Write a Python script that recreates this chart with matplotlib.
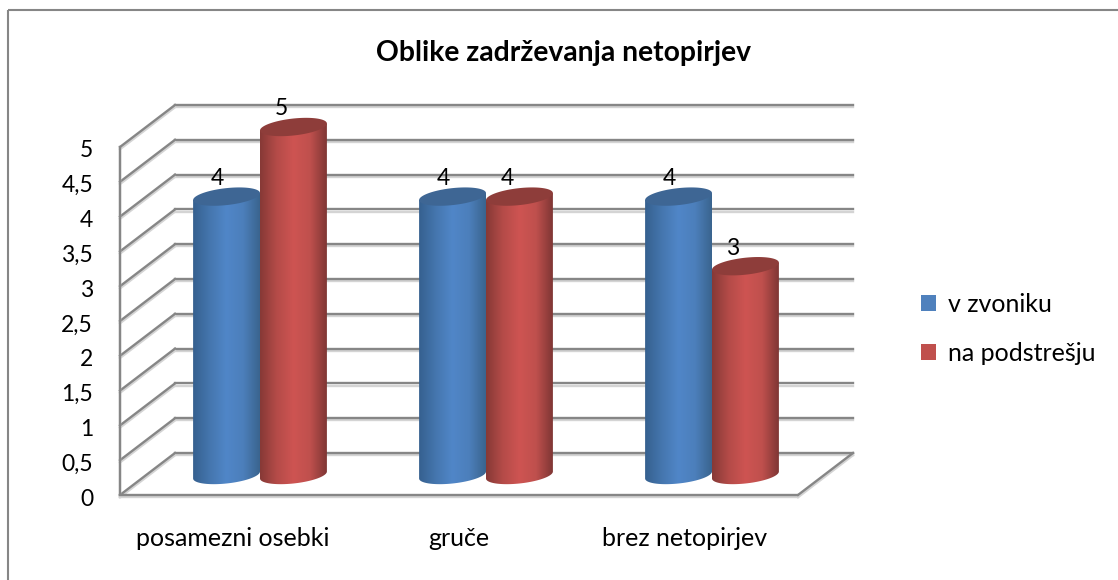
import numpy as np
import matplotlib
matplotlib.use("Agg")
import matplotlib.pyplot as plt
from matplotlib.colors import LinearSegmentedColormap
from matplotlib.lines import Line2D
from matplotlib.patches import Polygon, Patch
from matplotlib.transforms import Affine2D
import matplotlib.patheffects as pe

# ---- data ----
title = "Oblike zadrževanja netopirjev"
categories = ["posamezni osebki", "gruče", "brez netopirjev"]
series_names = ["v zvoniku", "na podstrešju"]
v_zvoniku = [4, 4, 4]
na_podstresju = [5, 4, 3]
y_ticks = [0, 0.5, 1, 1.5, 2, 2.5, 3, 3.5, 4, 4.5, 5]
y_tick_labels = ["0", "0,5", "1", "1,5", "2", "2,5", "3", "3,5", "4", "4,5", "5"]

# ---- style ----
W, H = 1118, 580
plt.rcParams['font.family'] = ['Lato', 'DejaVu Sans']
GRID = "#868686"
SHADOW = "#d4d4d4"
TEXT = "#000000"
BLUE, RED = "#4f81bd", "#c0504d"
blue_cmap = LinearSegmentedColormap.from_list("b", ["#35608f", "#4576ae", "#5086c8", "#4c7fbb", "#3a648e"])
red_cmap = LinearSegmentedColormap.from_list("r", ["#863936", "#b44b48", "#ce5452", "#bf504d", "#7f3634"])
blue_cap, red_cap = "#3e6694", "#8e3d3a"
FS = 18
FS_NUM = 16.5

fig = plt.figure(figsize=(W / 100, H / 100), dpi=100, facecolor="white")
ax = fig.add_axes([120 / W, 1 - 495 / H, (798 - 120) / W, (495 - 147) / H])
ax.patch.set_alpha(0)
for s in ax.spines.values():
    s.set_visible(False)

n = len(categories)
xmin, xmax = 0, n
ax.set_xlim(xmin, xmax)
ax.set_ylim(0, y_ticks[-1])
ax.autoscale(False)

# depth of the 3-D box, in data units
DX, DY = 55 / 226, 42 / 69.6
bar_tr = ax.transData + Affine2D().translate(27, 20)
shadow = [pe.SimpleLineShadow(offset=(0, -1.6), shadow_color=SHADOW, alpha=1), pe.Normal()]
line_kw = dict(color=GRID, lw=1.7, clip_on=False, zorder=1, solid_capstyle="projecting", path_effects=shadow)

for v in y_ticks:
    ax.plot([xmin + DX, xmax + DX], [v + DY, v + DY], **line_kw)
    ax.plot([xmin, xmin + DX], [v, v + DY], **line_kw)
ax.plot([xmin, xmin], [0, y_ticks[-1]], **line_kw)
ax.plot([xmin, xmax], [0, 0], **line_kw)
ax.plot([xmax, xmax + DX], [0, DY], **line_kw)

# cylinders
bar_w = 0.296
RY, TILT = 0.122, 0.05
centers = np.arange(n) + 0.5
t = np.linspace(0, 2 * np.pi, 121)


def cylinder(cx, v, cmap, cap, z, lab_dx):
    rx = bar_w / 2
    lower = t[(t >= np.pi)]
    xs = cx + rx * np.cos(lower)
    ys = RY * np.sin(lower) + TILT * np.cos(lower)
    outline = np.vstack([[cx - rx, v - TILT], np.column_stack([xs, ys]), [cx + rx, v + TILT]])
    body = Polygon(outline, closed=True, facecolor="none", edgecolor="none", transform=bar_tr, zorder=z, clip_on=False)
    ax.add_patch(body)
    im = ax.imshow(np.linspace(0, 1, 256)[None, :], cmap=cmap, aspect="auto", interpolation="bilinear",
                   extent=(cx - rx, cx + rx, -0.3, v + 0.3), zorder=z)
    im.set_transform(bar_tr)
    im.set_clip_box(fig.bbox)
    im.set_clip_path(body)
    cap_pts = np.column_stack([cx + rx * np.cos(t), v + RY * np.sin(t) + TILT * np.cos(t)])
    ax.add_patch(Polygon(cap_pts, closed=True, facecolor=cap, edgecolor="none", transform=bar_tr,
                         zorder=z + 0.1, clip_on=False))
    ax.annotate(str(v), (cx + lab_dx, v), xycoords=bar_tr, xytext=(0, 13), textcoords="offset points",
                ha="center", va="center", fontsize=FS_NUM, color=TEXT, zorder=20, annotation_clip=False)


for i, c in enumerate(centers):
    cylinder(c - bar_w / 2, v_zvoniku[i], blue_cmap, blue_cap, 3 + 2 * i, -0.04)
    cylinder(c + bar_w / 2, na_podstresju[i], red_cmap, red_cap, 4 + 2 * i, -0.055)

ax.set_xlim(xmin, xmax)
ax.set_ylim(0, y_ticks[-1])

# axes labels
ax.set_yticks(y_ticks, y_tick_labels, fontsize=FS_NUM, color=TEXT, ha="right")
ax.set_xticks(centers, categories, fontsize=FS, color=TEXT)
ax.tick_params(axis="y", length=0, pad=19.4)
ax.tick_params(axis="x", length=0, pad=23)
for lab in ax.get_yticklabels():
    lab.set_transform(lab.get_transform() + Affine2D().translate(0, -2))

# title
fig.text(564 / W, 1 - 53 / H, title, ha="center", va="center", fontsize=20.3, fontweight="bold", color=TEXT)

# legend
handles = [Patch(facecolor=BLUE, edgecolor="none"), Patch(facecolor=RED, edgecolor="none")]
fig.legend(handles, series_names, loc="upper left", bbox_to_anchor=(921 / W, 1 - 293 / H),
           bbox_transform=fig.transFigure, frameon=False, fontsize=FS, borderpad=0, borderaxespad=0,
           handlelength=0.6, handleheight=0.6, handletextpad=0.48, labelspacing=1.03, labelcolor=TEXT)

# outer chart frame
frame_kw = dict(color=GRID, lw=1.5, transform=fig.transFigure, solid_capstyle="butt")
fig.add_artist(Line2D([8 / W, 8 / W], [0, 1 - 10 / H], **frame_kw))
fig.add_artist(Line2D([8 / W, 1], [1 - 10 / H, 1 - 10 / H], **frame_kw))

fig.savefig("out.png", dpi=100, facecolor="white")
